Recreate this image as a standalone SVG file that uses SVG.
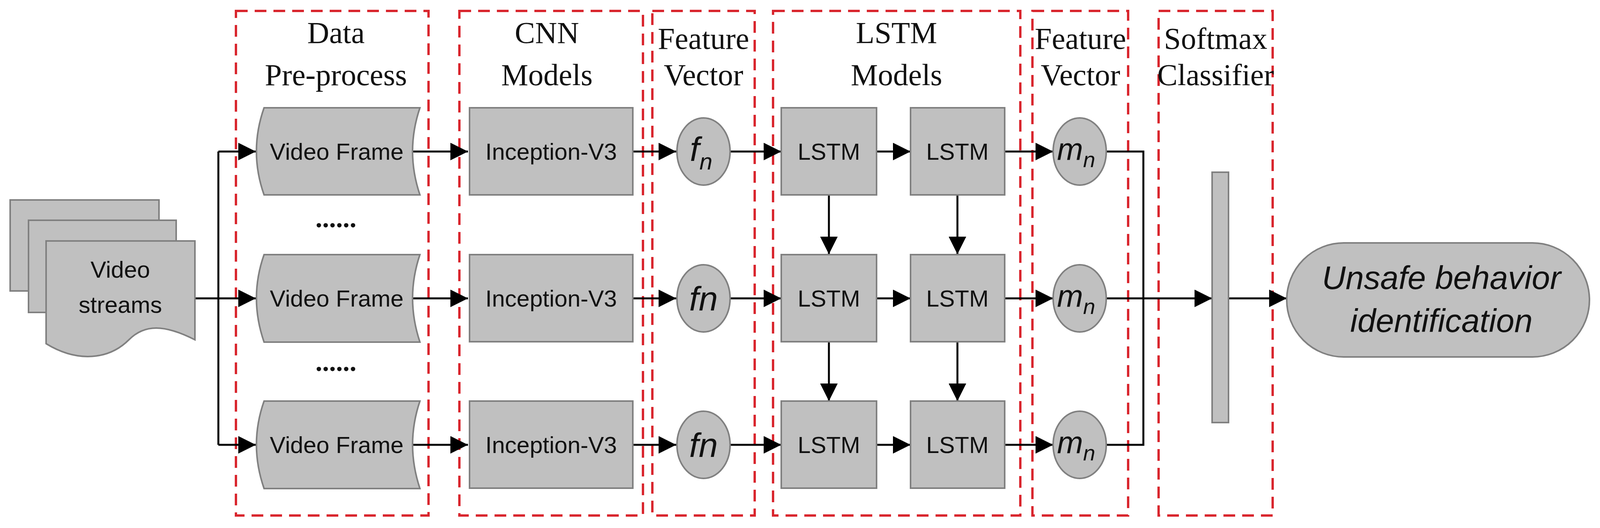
<svg xmlns="http://www.w3.org/2000/svg" width="4115" height="1352" viewBox="0 0 4115 1352">
<defs>
<style>
.grp{fill:none;stroke:#d9262e;stroke-width:6;stroke-dasharray:30 18}
.nd{fill:#c0c0c0;stroke:#808080;stroke-width:4}
.hd{font-family:"Liberation Serif",serif;font-size:78px;fill:#111;text-anchor:middle}
.t{font-family:"Liberation Sans",sans-serif;font-size:60px;fill:#111;text-anchor:middle;dominant-baseline:central}
.ti{font-family:"Liberation Sans",sans-serif;font-style:italic;fill:#111;text-anchor:middle}
.c{fill:none;stroke:#000;stroke-width:5}
</style>
<marker id="m" viewBox="0 0 10 10" refX="10" refY="5" markerWidth="45" markerHeight="45" markerUnits="userSpaceOnUse" orient="auto"><path d="M0,0 L10,5 L0,10 z" fill="#000"/></marker>
</defs>
<g id="groups">
<rect class="grp" x="604" y="28" width="493" height="1292"/>
<rect class="grp" x="1176" y="28" width="470" height="1292"/>
<rect class="grp" x="1670" y="28" width="262" height="1292"/>
<rect class="grp" x="1979" y="28" width="633" height="1292"/>
<rect class="grp" x="2643" y="28" width="245" height="1292"/>
<rect class="grp" x="2966" y="28" width="292" height="1292"/>
<text class="hd" x="860" y="110">Data</text><text class="hd" x="860" y="218">Pre-process</text>
<text class="hd" x="1400" y="110">CNN</text><text class="hd" x="1400" y="218">Models</text>
<text class="hd" x="1801" y="125">Feature</text><text class="hd" x="1801" y="218">Vector</text>
<text class="hd" x="2295" y="110">LSTM</text><text class="hd" x="2295" y="218">Models</text>
<text class="hd" x="2766" y="125">Feature</text><text class="hd" x="2766" y="218">Vector</text>
<text class="hd" x="3112" y="125">Softmax</text><text class="hd" x="3112" y="218">Classifier</text>
</g>
<g id="connectors">
<path class="c" d="M499,764 H559 M559,388 V1139"/>
<path class="c" d="M559,388 H655" marker-end="url(#m)"/><path class="c" d="M559,764 H655" marker-end="url(#m)"/><path class="c" d="M559,1139 H655" marker-end="url(#m)"/>
<path class="c" d="M1055,388 H1198" marker-end="url(#m)"/><path class="c" d="M1055,764 H1198" marker-end="url(#m)"/><path class="c" d="M1055,1139 H1198" marker-end="url(#m)"/>
<path class="c" d="M1620,388 H1731" marker-end="url(#m)"/><path class="c" d="M1620,764 H1731" marker-end="url(#m)"/><path class="c" d="M1620,1139 H1731" marker-end="url(#m)"/>
<path class="c" d="M1869,388 H2000" marker-end="url(#m)"/><path class="c" d="M1869,764 H2000" marker-end="url(#m)"/><path class="c" d="M1869,1139 H2000" marker-end="url(#m)"/>
<path class="c" d="M2244,388 H2331" marker-end="url(#m)"/><path class="c" d="M2244,764 H2331" marker-end="url(#m)"/><path class="c" d="M2244,1139 H2331" marker-end="url(#m)"/>
<path class="c" d="M2572,388 H2696" marker-end="url(#m)"/><path class="c" d="M2572,764 H2696" marker-end="url(#m)"/><path class="c" d="M2572,1139 H2696" marker-end="url(#m)"/>
<path class="c" d="M2122,499 V651" marker-end="url(#m)"/><path class="c" d="M2451,499 V651" marker-end="url(#m)"/>
<path class="c" d="M2122,876 V1027" marker-end="url(#m)"/><path class="c" d="M2451,876 V1027" marker-end="url(#m)"/>
<path class="c" d="M2832,388 H2927 V1139 H2832"/>
<path class="c" d="M2832,764 H3103" marker-end="url(#m)"/>
<path class="c" d="M3145,764 H3294" marker-end="url(#m)"/>
</g>
<g id="streams">
<path class="nd" d="M26,512 H407 V745 H26 Z"/>
<path class="nd" d="M73,564 H451 V800 H73 Z"/>
<path class="nd" d="M118,617 H499 V870 C420,830 370,830 330,870 C280,920 200,930 118,880 Z"/>
<text class="t" x="308" y="690">Video</text><text class="t" x="308" y="780">streams</text>
</g>
<g id="vf1"><path class="nd" d="M676,276 H1075 C1050,350 1050,425 1075,499 H676 C650,425 650,350 676,276 Z"/><text class="t" x="862" y="388">Video Frame</text></g>
<g id="vf2"><path class="nd" d="M676,652 H1075 C1050,726 1050,801 1075,876 H676 C650,801 650,726 676,652 Z"/><text class="t" x="862" y="764">Video Frame</text></g>
<g id="vf3"><path class="nd" d="M676,1027 H1075 C1050,1101 1050,1176 1075,1251 H676 C650,1176 650,1101 676,1027 Z"/><text class="t" x="862" y="1139">Video Frame</text></g>
<text class="hd" x="860" y="582" style="font-size:70px;font-weight:bold">......</text>
<text class="hd" x="860" y="950" style="font-size:70px;font-weight:bold">......</text>
<g id="inc1"><rect class="nd" x="1202" y="276" width="418" height="223"/><text class="t" x="1411" y="388">Inception-V3</text></g>
<g id="inc2"><rect class="nd" x="1202" y="652" width="418" height="223"/><text class="t" x="1411" y="764">Inception-V3</text></g>
<g id="inc3"><rect class="nd" x="1202" y="1027" width="418" height="223"/><text class="t" x="1411" y="1139">Inception-V3</text></g>
<g id="f1"><ellipse class="nd" cx="1801" cy="388" rx="68" ry="86"/><text class="ti" x="1795" y="412" font-size="88">f<tspan font-size="60" dy="22">n</tspan></text></g>
<g id="f2"><ellipse class="nd" cx="1801" cy="764" rx="68" ry="86"/><text class="ti" x="1801" y="795" font-size="88">fn</text></g>
<g id="f3"><ellipse class="nd" cx="1801" cy="1139" rx="68" ry="86"/><text class="ti" x="1801" y="1170" font-size="88">fn</text></g>
<g id="l11"><rect class="nd" x="2000" y="276" width="244" height="223"/><text class="t" x="2122" y="388">LSTM</text></g>
<g id="l12"><rect class="nd" x="2331" y="276" width="241" height="223"/><text class="t" x="2451" y="388">LSTM</text></g>
<g id="l21"><rect class="nd" x="2000" y="652" width="244" height="223"/><text class="t" x="2122" y="764">LSTM</text></g>
<g id="l22"><rect class="nd" x="2331" y="652" width="241" height="223"/><text class="t" x="2451" y="764">LSTM</text></g>
<g id="l31"><rect class="nd" x="2000" y="1027" width="244" height="223"/><text class="t" x="2122" y="1139">LSTM</text></g>
<g id="l32"><rect class="nd" x="2331" y="1027" width="241" height="223"/><text class="t" x="2451" y="1139">LSTM</text></g>
<g id="m1"><ellipse class="nd" cx="2764" cy="388" rx="68" ry="86"/><text class="ti" x="2755" y="410" font-size="80">m<tspan font-size="56" dy="18">n</tspan></text></g>
<g id="m2"><ellipse class="nd" cx="2764" cy="764" rx="68" ry="86"/><text class="ti" x="2755" y="786" font-size="80">m<tspan font-size="56" dy="18">n</tspan></text></g>
<g id="m3"><ellipse class="nd" cx="2764" cy="1139" rx="68" ry="86"/><text class="ti" x="2755" y="1161" font-size="80">m<tspan font-size="56" dy="18">n</tspan></text></g>
<g id="softmax"><rect class="nd" x="3103" y="441" width="42" height="641"/></g>
<g id="out"><rect class="nd" x="3294" y="622" width="775" height="292" rx="146"/><text class="ti" x="3690" y="740" font-size="84">Unsafe behavior</text><text class="ti" x="3690" y="850" font-size="84">identification</text></g>
</svg>
